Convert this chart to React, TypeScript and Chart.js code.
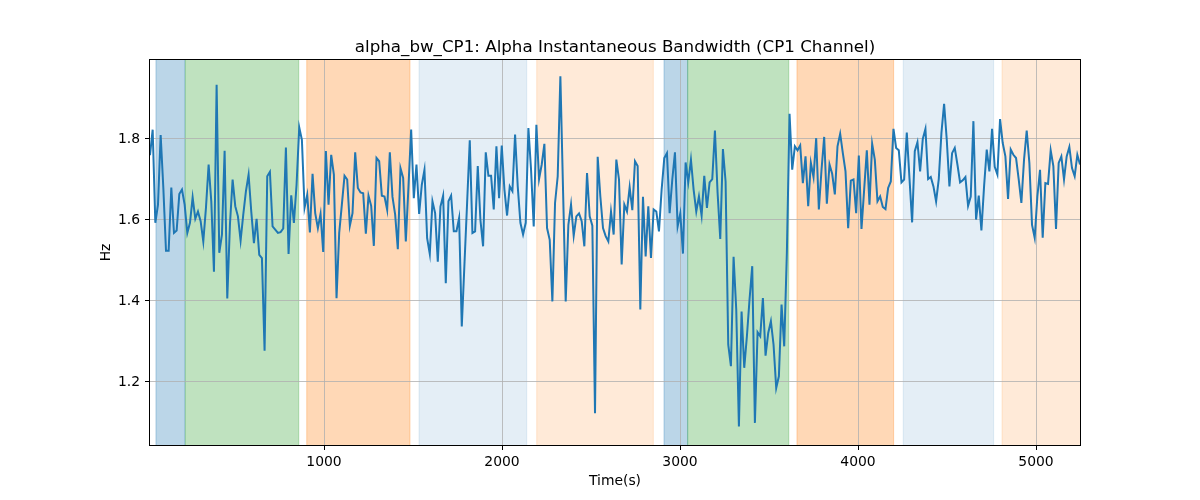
import React, { useEffect, useRef } from 'react';
import { Chart, registerables } from 'chart.js';

Chart.register(...registerables);

const TITLE = 'alpha_bw_CP1: Alpha Instantaneous Bandwidth (CP1 Channel)';
const X_LABEL = 'Time(s)';
const Y_LABEL = 'Hz';

const T_START = 22.5;
const T_END = 5247;
const Y_MIN = 1.0444;
const Y_MAX = 1.995;

const X_TICKS = [1000, 2000, 3000, 4000, 5000];
const Y_TICKS = [1.2, 1.4, 1.6, 1.8];

const BANDWIDTH = [
  1.76, 1.823, 1.593, 1.638, 1.81, 1.68, 1.524, 1.524, 1.68, 1.568,
  1.574, 1.664, 1.675, 1.638, 1.568, 1.593, 1.656, 1.603, 1.621, 1.597,
  1.547, 1.63, 1.737, 1.646, 1.472, 1.934, 1.519, 1.564, 1.771, 1.406,
  1.589, 1.70, 1.634, 1.609, 1.549, 1.613, 1.671, 1.712, 1.621, 1.543,
  1.603, 1.514, 1.506, 1.277, 1.708, 1.719, 1.584, 1.576, 1.568, 1.57,
  1.579, 1.779, 1.516, 1.661, 1.593, 1.687, 1.829, 1.798, 1.63,
  1.662, 1.569, 1.714, 1.617, 1.58, 1.615, 1.521, 1.77, 1.638, 1.761,
  1.712, 1.407, 1.568, 1.638, 1.709, 1.70, 1.586, 1.617, 1.767, 1.679,
  1.668, 1.666, 1.566, 1.66, 1.635, 1.536, 1.753, 1.745, 1.66, 1.658,
  1.625, 1.767, 1.657, 1.613, 1.528, 1.728, 1.704, 1.547, 1.683, 1.823,
  1.654, 1.737, 1.615, 1.687, 1.724, 1.555, 1.516, 1.646, 1.617, 1.497,
  1.633, 1.66, 1.444, 1.646, 1.66, 1.572, 1.572, 1.605,
  1.337, 1.49, 1.642, 1.797, 1.568, 1.572, 1.733, 1.60, 1.535, 1.767,
  1.709, 1.709, 1.626, 1.782, 1.654, 1.784, 1.675, 1.611, 1.683, 1.671,
  1.811, 1.683, 1.593, 1.564, 1.593, 1.827, 1.724, 1.584, 1.835, 1.701,
  1.737, 1.788, 1.58, 1.551, 1.399, 1.642, 1.708, 1.955, 1.675, 1.399,
  1.588, 1.638, 1.561, 1.609, 1.616, 1.597, 1.535, 1.716, 1.609, 1.586,
  1.123, 1.756, 1.658, 1.58, 1.56, 1.547, 1.621, 1.564,
  1.749, 1.70, 1.49, 1.638, 1.621, 1.681, 1.624, 1.745, 1.733, 1.379,
  1.657, 1.51, 1.634, 1.506, 1.626, 1.621, 1.572, 1.675, 1.753, 1.765,
  1.617, 1.70, 1.767, 1.584, 1.616, 1.517, 1.742, 1.693, 1.749, 1.675,
  1.621, 1.658, 1.611, 1.709, 1.63, 1.693, 1.701, 1.821, 1.667, 1.553,
  1.775, 1.695, 1.292, 1.239, 1.509, 1.379, 1.09, 1.374, 1.235, 1.313,
  1.405, 1.486, 1.099, 1.323, 1.313, 1.407, 1.265, 1.321,
  1.35, 1.292, 1.185, 1.214, 1.391, 1.288, 1.52, 1.862,
  1.724, 1.782, 1.772, 1.784, 1.691, 1.757, 1.634, 1.741, 1.706, 1.802,
  1.626, 1.724, 1.805, 1.64, 1.737, 1.714, 1.663, 1.782, 1.813, 1.765,
  1.72, 1.58, 1.697, 1.70, 1.617, 1.759, 1.578, 1.675, 1.772, 1.638,
  1.788, 1.749, 1.646, 1.658, 1.632, 1.627, 1.679, 1.695, 1.825, 1.778,
  1.772, 1.693, 1.70, 1.816, 1.704, 1.594, 1.77, 1.792, 1.72, 1.80,
  1.825, 1.701, 1.706, 1.683, 1.646, 1.701, 1.815, 1.887, 1.798, 1.683,
  1.765, 1.778, 1.737, 1.693, 1.698, 1.706, 1.635, 1.658, 1.844, 1.601,
  1.66, 1.574, 1.683, 1.774, 1.72, 1.825, 1.731, 1.712, 1.849, 1.79,
  1.757, 1.652, 1.774, 1.761, 1.753, 1.70, 1.642, 1.749, 1.821, 1.741,
  1.588, 1.556, 1.658, 1.724, 1.556, 1.691, 1.689, 1.772, 1.733, 1.578,
  1.741, 1.757, 1.70, 1.757, 1.78, 1.728, 1.708, 1.761, 1.737,
];

const SPAN_STARTS = [56, 221, 903, 1534, 2195, 2910, 3043, 3657, 4254, 4809];
const SPAN_ENDS = [219, 858, 1483, 2139, 2850, 3043, 3611, 4200, 4762, 5300];
const SPAN_COLORS = [
  'rgba(31,119,180,0.3)',
  'rgba(44,160,44,0.3)',
  'rgba(255,127,14,0.3)',
  'rgba(31,119,180,0.12)',
  'rgba(255,127,14,0.16)',
  'rgba(31,119,180,0.3)',
  'rgba(44,160,44,0.3)',
  'rgba(255,127,14,0.3)',
  'rgba(31,119,180,0.12)',
  'rgba(255,127,14,0.16)',
];

const FONT = '"DejaVu Sans", sans-serif';

const framePlugin = {
  id: 'mplFrame',
  beforeDraw(chart: any) {
    const { ctx, chartArea: a, scales } = chart;
    const xs = scales.x;
    ctx.save();
    ctx.beginPath();
    ctx.rect(a.left, a.top, a.right - a.left, a.bottom - a.top);
    ctx.clip();
    SPAN_STARTS.forEach((s, i) => {
      const x0 = xs.getPixelForValue(s);
      const x1 = xs.getPixelForValue(SPAN_ENDS[i]);
      ctx.fillStyle = SPAN_COLORS[i];
      ctx.fillRect(x0, a.top, x1 - x0, a.bottom - a.top);
      ctx.strokeStyle = SPAN_COLORS[i];
      ctx.lineWidth = 1;
      ctx.beginPath();
      ctx.moveTo(x0, a.top);
      ctx.lineTo(x0, a.bottom);
      ctx.moveTo(x1, a.top);
      ctx.lineTo(x1, a.bottom);
      ctx.stroke();
    });
    ctx.restore();
  },
  afterDraw(chart: any) {
    const { ctx, chartArea: a } = chart;
    ctx.save();
    ctx.strokeStyle = '#000';
    ctx.lineWidth = 1;
    ctx.strokeRect(a.left - 0.5, a.top - 0.5, a.right - a.left + 1, a.bottom - a.top + 1);
    ctx.fillStyle = '#000';
    ctx.font = `16.7px ${FONT}`;
    ctx.textAlign = 'center';
    ctx.textBaseline = 'alphabetic';
    ctx.fillText(TITLE, (a.left + a.right) / 2, a.top - 8.3);
    ctx.font = `13.9px ${FONT}`;
    ctx.textBaseline = 'middle';
    ctx.fillText(X_LABEL, (a.left + a.right) / 2, 481);
    ctx.translate(106, (a.top + a.bottom) / 2);
    ctx.rotate(-Math.PI / 2);
    ctx.fillText(Y_LABEL, 0, 0);
    ctx.restore();
  },
};

export default function App() {
  const ref = useRef<HTMLCanvasElement>(null);
  useEffect(() => {
    document.body.style.margin = '0';
    const step = (T_END - T_START) / (BANDWIDTH.length - 1);
    const points = BANDWIDTH.map((v, i) => ({ x: T_START + i * step, y: v }));
    const gridCfg = {
      color: '#b0b0b0',
      lineWidth: 0.8,
      drawOnChartArea: true,
      drawTicks: true,
      tickLength: 5,
      tickColor: '#000',
      tickWidth: 1,
    };
    const chart = new Chart(ref.current as HTMLCanvasElement, {
      type: 'line',
      data: {
        datasets: [
          {
            data: points,
            borderColor: '#1f77b4',
            borderWidth: 2,
            pointRadius: 0,
            tension: 0,
            fill: false,
          },
        ],
      },
      options: {
        responsive: false,
        animation: false,
        devicePixelRatio: 1,
        layout: { padding: { left: 0, right: 120, top: 60, bottom: 0 } },
        plugins: {
          legend: { display: false },
          tooltip: { enabled: false },
          title: { display: false },
        },
        scales: {
          x: {
            type: 'linear',
            min: T_START,
            max: T_END,
            afterBuildTicks: (s: any) => {
              s.ticks = X_TICKS.map((v) => ({ value: v }));
            },
            afterFit: (s: any) => {
              s.height = 55;
            },
            grid: gridCfg,
            border: { display: false },
            ticks: {
              autoSkip: false,
              maxRotation: 0,
              padding: 4,
              color: '#000',
              font: { family: FONT, size: 13.9 },
              callback: (v: any) => String(v),
            },
          },
          y: {
            type: 'linear',
            min: Y_MIN,
            max: Y_MAX,
            afterBuildTicks: (s: any) => {
              s.ticks = Y_TICKS.map((v) => ({ value: v }));
            },
            afterFit: (s: any) => {
              s.width = 150;
            },
            grid: gridCfg,
            border: { display: false },
            ticks: {
              autoSkip: false,
              padding: 5,
              color: '#000',
              font: { family: FONT, size: 13.9 },
              callback: (v: any) => Number(v).toFixed(1),
            },
          },
        },
      },
      plugins: [framePlugin],
    } as any);
    return () => chart.destroy();
  }, []);
  return (
    <div style={{ position: 'absolute', left: 0, top: 0, width: 1200, height: 500 }}>
      <canvas ref={ref} width={1200} height={500} />
    </div>
  );
}
